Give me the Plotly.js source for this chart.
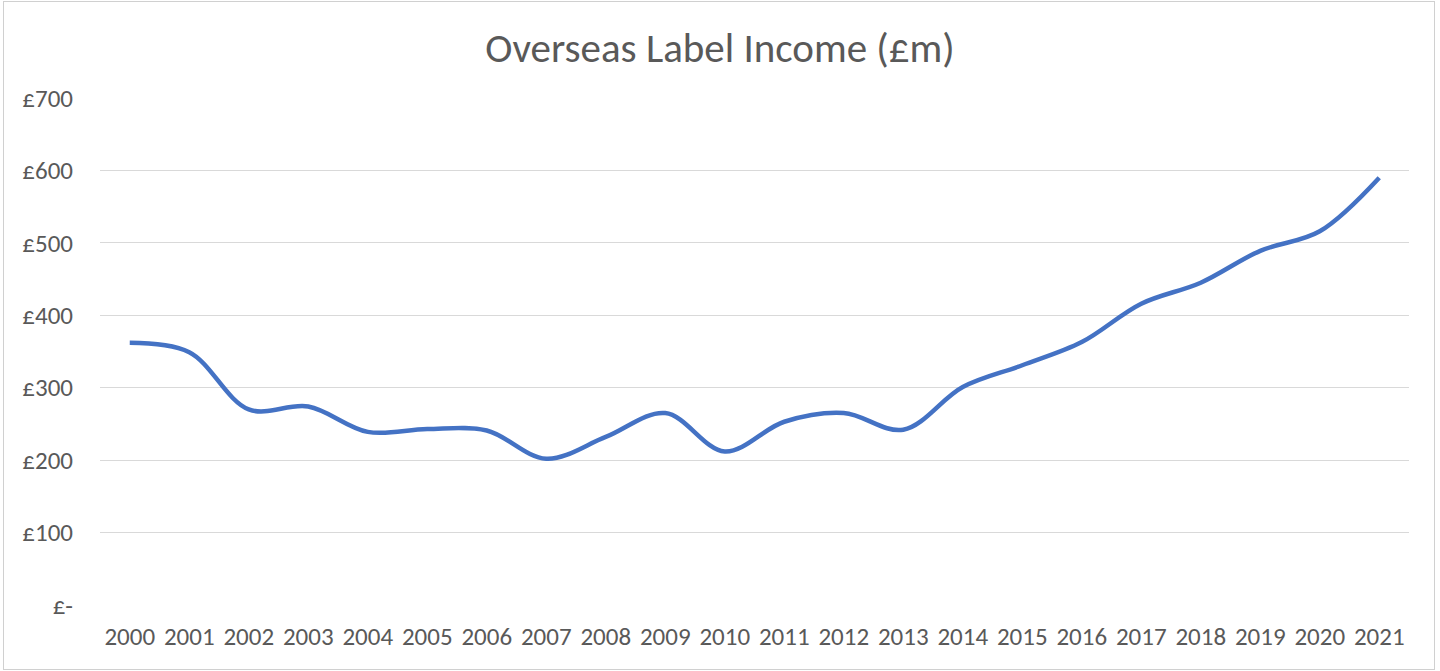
<!DOCTYPE html>
<html>
<head>
<meta charset="utf-8">
<script src="https://cdn.plot.ly/plotly-3.0.1.min.js"></script>
<style>
  body { margin: 0; background: #fff; }
  #chart { width: 1440px; height: 671px; }
  #frame {
    position: absolute; left: 3px; top: 1px; width: 1430px; height: 667px;
    border: 1px solid #d0d0d0; pointer-events: none;
  }
</style>
</head>
<body>
<div id="chart"></div>
<div id="frame"></div>
<script>
// Overseas label income, £m
const years = ['2000', '2001', '2002', '2003', '2004', '2005', '2006', '2007',
  '2008', '2009', '2010', '2011', '2012', '2013', '2014', '2015', '2016',
  '2017', '2018', '2019', '2020', '2021'];
const income = [362, 349, 270, 274, 239, 243, 241, 202, 232, 265, 212, 253,
  265, 242, 301, 331, 363, 416, 445, 489, 516, 590];

const yTickVals = [0, 100, 200, 300, 400, 500, 600, 700];
const yTickText = ['£-', '£100', '£200', '£300', '£400', '£500', '£600', '£700'];

const textColor = '#595959';
const tickFont = {family: 'Carlito, "Liberation Sans", sans-serif', size: 25, color: textColor};

const trace = {
  x: years,
  y: income,
  type: 'scatter',
  mode: 'lines',
  line: {color: '#4472C4', width: 4.5, shape: 'spline', smoothing: 1},
  hoverinfo: 'x+y',
};

const layout = {
  width: 1440,
  height: 671,
  margin: {l: 100, r: 31, t: 98, b: 66},
  paper_bgcolor: '#ffffff',
  plot_bgcolor: '#ffffff',
  showlegend: false,
  title: {
    text: 'Overseas Label Income (£m)',
    font: {family: 'Carlito, "Liberation Sans", sans-serif', size: 41, color: textColor},
    x: 0.5, xref: 'container',
    y: 1 - 48 / 671, yref: 'container', yanchor: 'middle',
  },
  xaxis: {
    type: 'category',
    range: [-0.5, years.length - 0.5],
    showgrid: false,
    showline: false,
    zeroline: false,
    ticks: '',
    tickangle: 0,
    tickfont: tickFont,
    ticklabelstandoff: 14,
    fixedrange: true,
  },
  yaxis: {
    range: [0, 700],
    tickvals: yTickVals,
    ticktext: yTickText,
    showgrid: true,
    gridcolor: '#d9d9d9',
    gridwidth: 1,
    zeroline: false,
    showline: false,
    ticks: '',
    tickfont: tickFont,
    ticklabelstandoff: 26,
    fixedrange: true,
  },
};

Plotly.newPlot('chart', [trace], layout, {displayModeBar: false, staticPlot: true});
</script>
</body>
</html>
